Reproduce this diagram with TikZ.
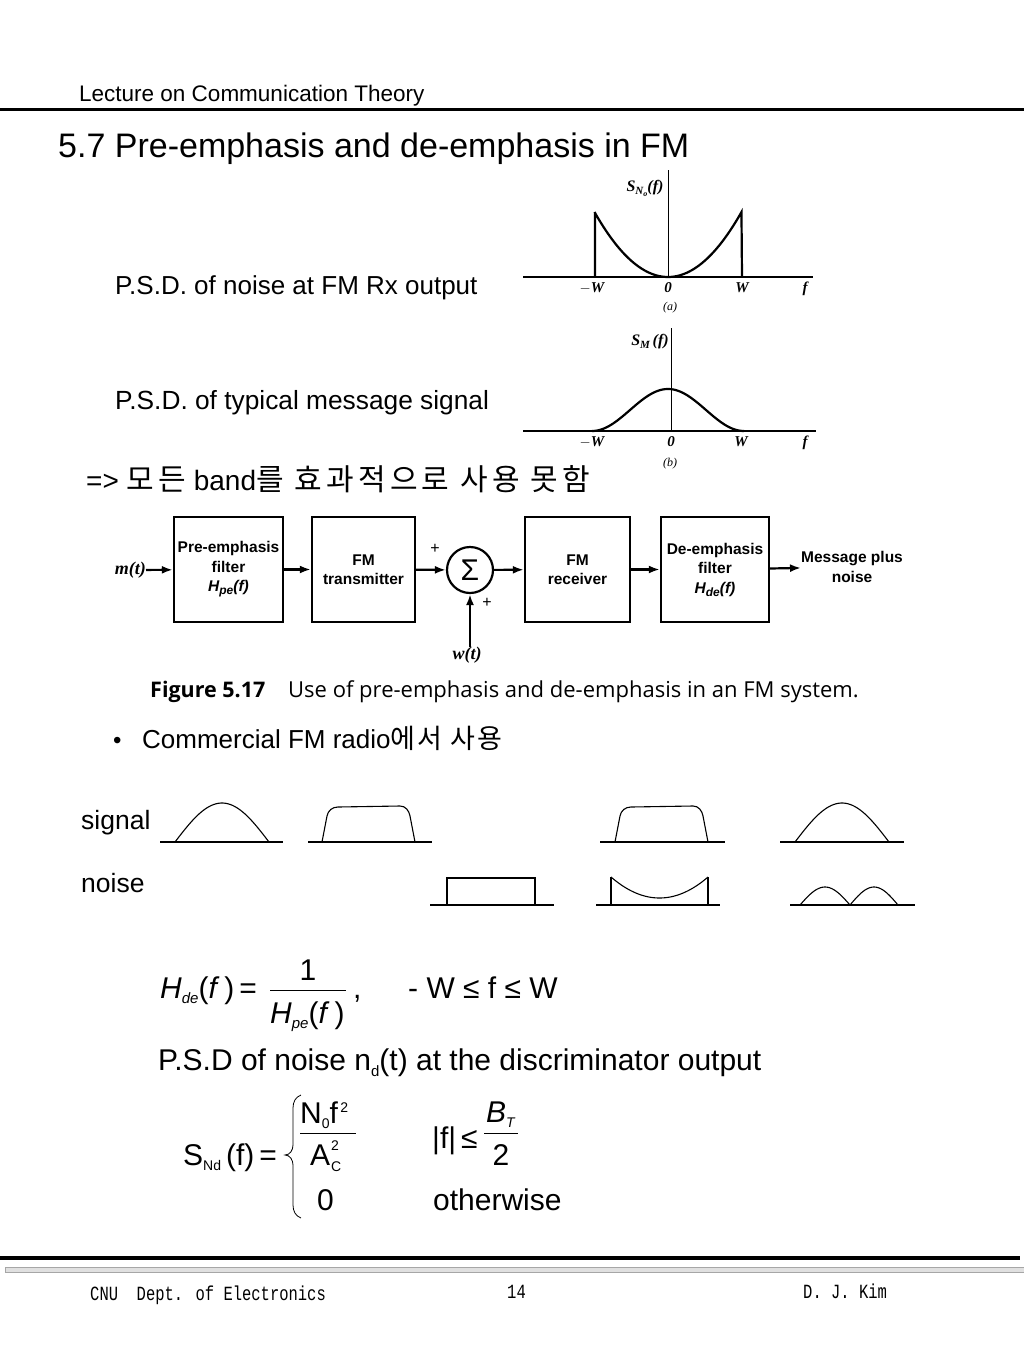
\documentclass[tikz,border=0pt]{standalone}
\usepackage{fontspec}
\setmainfont{Liberation Sans}
\newfontfamily\krf{Noto Sans CJK KR}
\newfontfamily\krw[LetterSpace=14]{Noto Sans CJK KR}
\newfontfamily\krv[LetterSpace=8]{Noto Sans CJK KR}
\newfontfamily\eqf{Liberation Sans}
\newfontfamily\tmf{Liberation Serif}
\newfontfamily\capf{Open Sans}
\newfontfamily\monof{Liberation Mono}
\usetikzlibrary{arrows.meta}
\newcommand\fsz[1]{\fontsize{#1}{#1}\selectfont}
\newcommand\fszb[2]{\fontsize{#1}{#2}\selectfont}
\tikzset{
  txt/.style={inner sep=0pt, anchor=base west},
  ctxt/.style={inner sep=0pt, anchor=base},
  blk/.style={draw, line width=2.4pt, minimum width=#1, minimum height=105pt, inner sep=0pt, align=center, font=\bfseries\fszb{15.5}{19.5}},
  sig/.style={line width=1.1pt},
  axis/.style={line width=2pt},
  arr/.style={-{Latex[length=11pt,width=8pt]}, line width=2.2pt},
  glab/.style={inner sep=0pt, anchor=base, font=\tmf\bfseries\itshape\fsz{15}}
}
\begin{document}
\begin{tikzpicture}[x=1pt,y=-1pt]
\fill[white] (0,0) rectangle (1024,1365);
\useasboundingbox (0,0) rectangle (1024,1365);

% header
\node[txt, font=\fsz{22.5}] (hdr) at (79,101) {Lecture on Communication Theory};
\draw[line width=3pt] (0,109) -- (1024,109);
\node[txt, font=\fsz{34}] (title) at (58,157) {5.7 Pre-emphasis and de-emphasis in FM};

% left labels
\node[txt, font=\fsz{26}] (l1) at (115,294) {P.S.D. of noise at FM Rx output};
\node[txt, font=\fsz{26.3}] (l2) at (115,409) {P.S.D. of typical message signal};
\node[txt, font=\fsz{28}] (l3) at (86,490) {=> {\krw\fsz{30}모든} band{\krw\fsz{30}를 효과적으로 사용 못함}};

% graph (a)
\draw[axis] (523,277) -- (813,277);
\draw[line width=1pt] (668,170) -- (668,277);
\draw[line width=2.2pt] (595,277) -- (595,212) plot[domain=-1:1, samples=60, smooth] ({668+73.5*\x},{277-65*\x*\x}) -- (742,277);
\node[glab, font=\tmf\bfseries\itshape\fsz{16}] (sa) at (645,191) {S\raisebox{-3pt}{\fsz{11}N\raisebox{-2pt}{\fsz{8}o}}(f)};
\node[glab] (a1) at (592,292) {$-$W};
\node[glab] (a2) at (668,292) {0};
\node[glab] (a3) at (742,292) {W};
\node[glab] (a4) at (805,292) {f};
\node[glab, font=\tmf\itshape\fsz{12}] (a5) at (670,310) {(a)};

% graph (b)
\draw[axis] (523,431) -- (816,431);
\draw[line width=1pt] (671,328) -- (671,431);
\draw[line width=2.2pt] plot[domain=-1:1, samples=80, smooth] ({668+76*\x},{431-42*(1+cos(180*\x))/2});
\node[glab, font=\tmf\bfseries\itshape\fsz{16}] (sb) at (650,345) {S\raisebox{-3pt}{\fsz{11}M}\,(f)};
\node[glab] (b1) at (592,446) {$-$W};
\node[glab] (b2) at (671,446) {0};
\node[glab] (b3) at (741,446) {W};
\node[glab] (b4) at (805,446) {f};
\node[glab, font=\tmf\itshape\fsz{12}] (b5) at (670,466) {(b)};

% block diagram
\node[blk=109pt] (pre) at (228.5,569.5) {Pre-emphasis\\filter\\\itshape H\raisebox{-3pt}{\fsz{12}pe}(f)};
\node[blk=103pt] (tx) at (363.5,569.5) {FM\\transmitter};
\node[draw, circle, line width=2.2pt, minimum size=46pt, inner sep=0pt, font=\fsz{30}] (sum) at (470,570) {Σ};
\node[blk=105pt] (rx) at (577.5,569.5) {FM\\receiver};
\node[blk=108pt] (de) at (715,569.5) {De-emphasis\\filter\\\itshape H\raisebox{-3pt}{\fsz{12}de}(f)};
\node[inner sep=0pt, anchor=east, font=\tmf\bfseries\itshape\fsz{18}] (mt) at (146,570) {m(t)};
\node[inner sep=0pt, anchor=north, font=\tmf\bfseries\itshape\fsz{18}] (wt) at (467,647) {w(t)};
\node[inner sep=0pt, align=center, anchor=west, font=\bfseries\fszb{15.5}{20}] (out) at (801,567) {Message plus\\noise};
\node[inner sep=0pt, font=\fsz{16}] (p1) at (435,549) {+};
\node[inner sep=0pt, font=\fsz{16}] (p2) at (487,603) {+};
\draw[arr] (mt) -- (pre);
\draw[arr] (pre) -- (tx);
\draw[arr] (tx) -- (sum);
\draw[arr] (sum) -- (rx);
\draw[arr] (rx) -- (de);
\draw[arr] (de) -- (out);
\draw[arr] (wt.north -| sum) -- (sum);

% caption
\node[txt, font=\capf\bfseries\fsz{21.5}] (fig) at (150,697) {Figure 5.17};
\node[txt, font=\capf\fsz{22}] (figt) at (288,697) {Use of pre-emphasis and de-emphasis in an FM system.};

% bullet
\node[txt, font=\fsz{24}] (bul) at (113,748) {\textbullet};
\node[txt, font=\fsz{26}] (com) at (142,748) {Commercial FM radio{\krv\fsz{27}에서 사용}};

% signal / noise sketches
\node[txt, font=\fsz{26.5}] (sigl) at (81,829) {signal};
\node[txt, font=\fsz{26.5}] (noil) at (81,892) {noise};
% signal 1 (bell)
\draw[sig] (160,842) -- (283,842);
\draw[sig] plot[domain=-1:1, samples=40, smooth] ({222+47*\x},{842-39*cos(90*\x)});
% signal 2 (flat top)
\draw[sig] (308,842) -- (432,842);
\draw[sig] (322,842) -- (327,816) to[out=80,in=180] (338,807) -- (400,806) to[out=0,in=100] (410,816) -- (415,842);
% signal 3 (flat top)
\draw[sig] (600,842) -- (725,842);
\draw[sig] (615,842) -- (620,816) to[out=80,in=180] (631,807) -- (693,806) to[out=0,in=100] (703,816) -- (708,842);
% signal 4 (bell)
\draw[sig] (780,842) -- (904,842);
\draw[sig] plot[domain=-1:1, samples=40, smooth] ({842+47*\x},{842-39*cos(90*\x)});
% noise 1 (flat)
\draw[sig] (430,905) -- (554,905);
\draw[sig] (447,905) -- (447,878) -- (535,878) -- (535,905);
% noise 2 (parabolic)
\draw[sig] (596,905) -- (720,905);
\draw[sig] (611,905) -- (611,877);
\draw[sig] (708,905) -- (708,877);
\draw[sig] plot[domain=-1:1, samples=40, smooth] ({659.5+48.5*\x},{898-21*\x*\x});
% noise 3 (two humps)
\draw[sig] (790,905) -- (915,905);
\draw[sig] plot[domain=-1:1, samples=30, smooth] ({825+25*\x},{905-18*cos(90*\x)});
\draw[sig] plot[domain=-1:1, samples=30, smooth] ({874+24*\x},{905-18*cos(90*\x)});

% formula 1
\node[txt, font=\eqf\fsz{30}] (hde) at (160,998) {\textit{H}\raisebox{-5pt}{\fsz{15}\textit{de}}(\textit{f}\,)\,=};
\node[ctxt, font=\eqf\fsz{30}] (one) at (308,980) {1};
\node[txt, font=\eqf\fsz{30}] (hpe) at (270,1023) {\textit{H}\raisebox{-5pt}{\fsz{15}\textit{pe}}(\textit{f}\,)};
\draw[line width=0.8pt] (270,990) -- (346,990);
\node[txt, font=\eqf\fsz{30}] (comma) at (353,998) {,};
\node[txt, font=\eqf\fsz{30}] (rng) at (408,998) {- W {\fsz{30}≤} f {\fsz{30}≤} W};

% psd line
\node[txt, font=\eqf\fsz{30}] (psd) at (158,1070) {P.S.D of noise n\raisebox{-6pt}{\fsz{15}d}(t) at the discriminator output};

% formula 2
\node[txt, font=\eqf\fsz{30}] (snd) at (183,1165) {S\raisebox{-5pt}{\fsz{14}Nd}\,(f)\,=\,};
\draw[line width=0.8pt] (301,1095) to[out=200,in=90] (293,1108) -- (293,1145) to[out=270,in=0] (285,1155) to[out=0,in=90] (293,1165) -- (293,1205) to[out=270,in=160] (301,1218);
\node[txt, font=\eqf\fsz{30}] (num) at (300,1123) {N\raisebox{-5pt}{\fsz{14}0}f\raisebox{11pt}{\fsz{14}\,2}};
\draw[line width=0.8pt] (300,1133) -- (356,1133);
\node[txt, font=\eqf\fsz{30}] (den) at (310,1165) {A};
\node[txt, font=\eqf\fsz{14}] (dsup) at (331,1150) {2};
\node[txt, font=\eqf\fsz{14}] (dsub) at (331,1171) {C};
\node[txt, font=\eqf\fsz{30}] (absf) at (432,1148) {|f|\,≤};
\node[txt, font=\eqf\fsz{30}] (bt) at (486,1122) {\textit{B}\raisebox{-5pt}{\fsz{14}\textit{T}}};
\draw[line width=0.8pt] (484,1133) -- (518,1133);
\node[ctxt, font=\eqf\fsz{30}] (two) at (501,1165) {2};
\node[txt, font=\eqf\fsz{30}] (zero) at (317,1210) {0};
\node[txt, font=\eqf\fsz{30}] (oth) at (433,1210) {otherwise};

% footer
\draw[line width=4pt] (0,1258) -- (1020,1258);
\filldraw[fill=black!12, draw=black!35, line width=0.6pt] (5,1267) rectangle (1024,1272);
\node[txt, font=\monof\fsz{15.5}] (f1) at (90,1300) {\scalebox{1}[1.3]{CNU\ \ Dept. of Electronics}};
\node[txt, font=\monof\fsz{15.5}] (f2) at (507,1298) {\scalebox{1}[1.3]{14}};
\node[txt, font=\monof\fsz{15.5}] (f3) at (803,1298) {\scalebox{1}[1.3]{D. J. Kim}};
\end{tikzpicture}
\end{document}
